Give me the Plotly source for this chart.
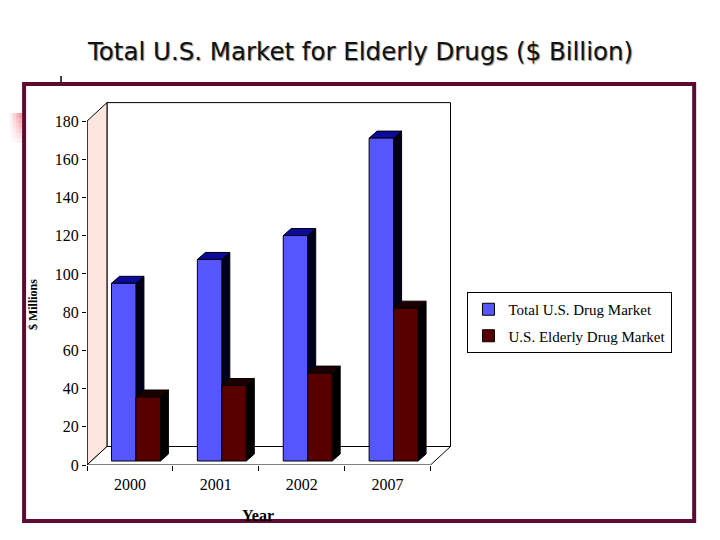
import plotly.graph_objects as go

# data ($ billions)
years = ["2000", "2001", "2002", "2007"]
total_market = [93, 105.5, 118, 169]
elderly_market = [33.5, 39.5, 46, 80]
y_ticks = [0, 20, 40, 60, 80, 100, 120, 140, 160, 180]

# the page puts the figure 8px in from the corner, so work in shifted pixels
OFF = 8
W, H = 720 - OFF, 540 - OFF
L, T = 87 - OFF, 102 - OFF
B = H - (465 - OFF)
R = W - (L + 4.25 * 86)
PX_PER_X = 86.0
PX_PER_Y = (H - T - B) / 190.0

def paper_x(px):
    return (px - OFF - L) / (W - L - R)

def paper_y(py):
    return (H - B - (py - OFF)) / (H - T - B)

# fake 3d depth
DX_WALL, DY_WALL = 20 / PX_PER_X, 18.5 / PX_PER_Y
DX_BAR, DY_BAR = 8 / PX_PER_X, 7 / PX_PER_Y
BASE = 4 / PX_PER_Y
BAR_W = 0.285

series = [
    dict(name="Total U.S. Drug Market", vals=total_market, offset=-0.215,
         front="#5656ff", side="#00001c", top="#0a0a9e"),
    dict(name="U.S. Elderly Drug Market", vals=elderly_market, offset=0.07,
         front="#580000", side="#000000", top="#1c0000"),
]

def poly(pts):
    return "M " + " L ".join(f"{x},{y}" for x, y in pts) + " Z"

fig = go.Figure()
shapes = []

# walls and floor
x_lo, x_hi, y_hi = -0.5, len(years) - 0.5, y_ticks[-1]
shapes.append(dict(type="rect", xref="x", yref="y", layer="below",
                   x0=x_lo + DX_WALL, x1=x_hi + DX_WALL, y0=DY_WALL, y1=y_hi + DY_WALL,
                   fillcolor="white", line=dict(color="black", width=1)))
shapes.append(dict(type="path", xref="x", yref="y", layer="below",
                   path=poly([(x_lo, 0), (x_lo + DX_WALL, DY_WALL),
                              (x_lo + DX_WALL, y_hi + DY_WALL), (x_lo, y_hi)]),
                   fillcolor="#fce4df", line=dict(color="black", width=1)))
shapes.append(dict(type="path", xref="x", yref="y", layer="below",
                   path=poly([(x_lo, 0), (x_hi, 0), (x_hi + DX_WALL, DY_WALL),
                              (x_lo + DX_WALL, DY_WALL)]),
                   fillcolor="white", line=dict(color="black", width=1)))

for s in series:
    for i, v in enumerate(s["vals"]):
        x0 = i + s["offset"]
        x1 = x0 + BAR_W
        y1 = BASE + v
        shapes.append(dict(type="path", xref="x", yref="y", layer="below",
                           path=poly([(x1, BASE), (x1 + DX_BAR, BASE + DY_BAR),
                                      (x1 + DX_BAR, y1 + DY_BAR), (x1, y1)]),
                           fillcolor=s["side"], line=dict(color="black", width=1)))
        shapes.append(dict(type="path", xref="x", yref="y", layer="below",
                           path=poly([(x0, y1), (x0 + DX_BAR, y1 + DY_BAR),
                                      (x1 + DX_BAR, y1 + DY_BAR), (x1, y1)]),
                           fillcolor=s["top"], line=dict(color="black", width=1)))
    fig.add_trace(go.Bar(
        x=list(range(len(years))), y=s["vals"], base=BASE,
        width=BAR_W, offset=s["offset"], name=s["name"], legendgroup=s["name"],
        marker=dict(color=s["front"], line=dict(color="black", width=1)),
    ))

# y axis line
shapes.append(dict(type="line", xref="x", yref="y", x0=x_lo, x1=x_lo, y0=0, y1=y_hi,
                   line=dict(color="black", width=1)))

# slide frame and bits around it
shapes.append(dict(type="rect", xref="paper", yref="paper",
                   x0=paper_x(24), x1=paper_x(695), y0=paper_y(84), y1=paper_y(521),
                   line=dict(color="#5c0a32", width=4)))
shapes.append(dict(type="line", xref="paper", yref="paper",
                   x0=paper_x(61), x1=paper_x(61), y0=paper_y(76), y1=paper_y(83),
                   line=dict(color="black", width=1.5)))
# pink fade left of the frame
for c in range(4):
    for r in range(6):
        op = (0.2 + 0.8 * c / 3) * (1 - r / 6) * 0.75
        shapes.append(dict(type="rect", xref="paper", yref="paper",
                           x0=paper_x(10 + 3 * c), x1=paper_x(13 + 3 * c),
                           y0=paper_y(118 + 5 * r), y1=paper_y(113 + 5 * r),
                           fillcolor="#f27a86", opacity=op, line=dict(width=0)))

serif = "Liberation Serif"
fig.update_layout(
    width=W, height=H,
    margin=dict(l=L, r=R, t=T, b=B),
    paper_bgcolor="white", plot_bgcolor="white",
    shapes=shapes,
    showlegend=True,
    legend=dict(x=paper_x(468), y=paper_y(292), xanchor="left", yanchor="top",
                bgcolor="white", bordercolor="black", borderwidth=1,
                font=dict(family=serif, size=15, color="black"),
                traceorder="grouped", tracegroupgap=4),
    annotations=[
        dict(text="Total U.S. Market for Elderly Drugs ($ Billion)",
             xref="paper", yref="paper", x=paper_x(360), y=paper_y(52),
             xanchor="center", yanchor="middle", showarrow=False,
             font=dict(family="DejaVu Sans", size=24.5, color="#111111",
                       shadow="1px 1px 1px #8a8a8a")),
        dict(text="<b>$ Millions</b>", textangle=-90,
             xref="paper", yref="paper", x=paper_x(33), y=paper_y(305),
             xanchor="center", yanchor="middle", showarrow=False,
             font=dict(family=serif, size=12, color="black")),
        dict(text="<b>Year</b>",
             xref="paper", yref="paper", x=paper_x(258), y=paper_y(515),
             xanchor="center", yanchor="middle", showarrow=False,
             font=dict(family=serif, size=16, color="black")),
    ],
)
fig.update_xaxes(range=[x_lo, 3.75], tickvals=list(range(len(years))), ticktext=years,
                 ticks="", showgrid=False, zeroline=False, showline=False,
                 ticklabelstandoff=8,
                 tickfont=dict(family=serif, size=16, color="black"),
                 minor=dict(tickvals=[i - 0.5 for i in range(len(years) + 1)],
                            ticks="outside", ticklen=5, tickcolor="black", showgrid=False))
fig.update_yaxes(range=[0, 190], tickvals=y_ticks, ticks="outside", ticklen=4,
                 tickcolor="black", showgrid=False, zeroline=False, showline=False,
                 tickfont=dict(family=serif, size=16, color="black"))

fig.write_html("out.html")
